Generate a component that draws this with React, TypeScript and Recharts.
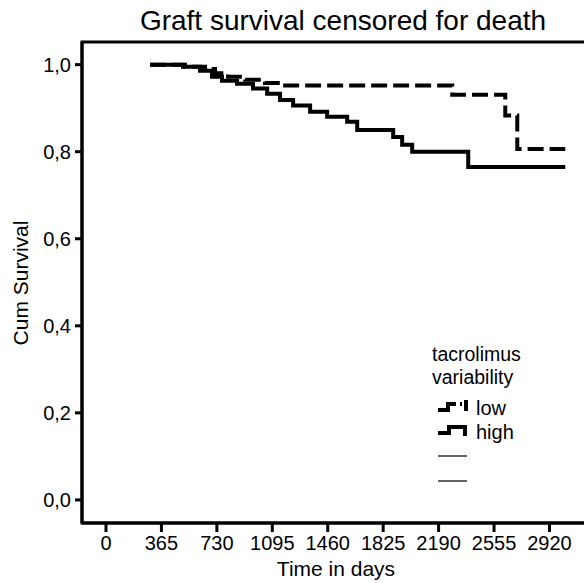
import React from "react"
import { LineChart, Line, XAxis, YAxis, ReferenceArea } from "recharts"

// Kaplan-Meier steps (days, cumulative survival)
const lowDays = [290, 520, 652, 718, 804, 916, 1047, 1160, 2280, 2629, 2708, 3024]
const lowSurv = [1.0, 0.995, 0.99, 0.98, 0.972, 0.965, 0.958, 0.952, 0.931, 0.883, 0.806, 0.806]
const highDays = [290, 507, 619, 698, 764, 863, 968, 1061, 1146, 1232, 1344, 1456, 1588, 1654, 1891, 1950, 2016, 2385, 3024]
const highSurv = [1.0, 0.995, 0.986, 0.972, 0.963, 0.956, 0.945, 0.933, 0.919, 0.906, 0.892, 0.88, 0.869, 0.85, 0.834, 0.816, 0.8, 0.765, 0.765]

const xTicks = [0, 365, 730, 1095, 1460, 1825, 2190, 2555, 2920]
const yTicks = [0, 0.2, 0.4, 0.6, 0.8, 1.0]

const X_MIN = -158
const X_MAX = 3200
const Y_MIN = -0.053
const Y_MAX = 1.052

const FONT = "'Liberation Sans', Arial, Helvetica, sans-serif"

const lowData = lowDays.map((t, i) => ({ t, s: lowSurv[i] }))
const highData = highDays.map((t, i) => ({ t, s: highSurv[i] }))

const fmt = (v: number) => v.toFixed(1).replace(".", ",")

export default function App() {
  return (
    <div
      style={{
        position: "absolute",
        left: 0,
        top: 0,
        width: 584,
        height: 583,
        overflow: "hidden",
        background: "#fff",
        fontFamily: FONT,
        color: "#000",
      }}
    >
      <LineChart width={600} height={583} margin={{ top: 42, right: 8, bottom: 0, left: 0 }}>
        <XAxis
          dataKey="t"
          type="number"
          domain={[X_MIN, X_MAX]}
          ticks={xTicks}
          allowDataOverflow
          height={60}
          stroke="#000"
          strokeWidth={3}
          tickSize={9}
          tickMargin={4}
          tick={{ fill: "#000", fontSize: 20, fontFamily: FONT }}
          interval={0}
        />
        <YAxis
          dataKey="s"
          type="number"
          domain={[Y_MIN, Y_MAX]}
          ticks={yTicks}
          allowDataOverflow
          width={82}
          stroke="#000"
          strokeWidth={3}
          tickSize={7}
          tickMargin={4}
          tickFormatter={fmt}
          tick={{ fill: "#000", fontSize: 20, fontFamily: FONT }}
          interval={0}
        />
        <ReferenceArea
          x1={X_MIN}
          x2={X_MAX}
          y1={Y_MIN}
          y2={Y_MAX}
          fill="none"
          stroke="#000"
          strokeWidth={3}
          ifOverflow="extendDomain"
        />
        <Line
          data={highData}
          dataKey="s"
          type="stepAfter"
          stroke="#000"
          strokeWidth={4}
          dot={false}
          isAnimationActive={false}
        />
        <Line
          data={lowData}
          dataKey="s"
          type="stepAfter"
          stroke="#000"
          strokeWidth={4}
          strokeDasharray="16 6"
          dot={false}
          isAnimationActive={false}
        />
      </LineChart>

      <div style={{ position: "absolute", left: 0, width: 686, top: 6, lineHeight: "30px", textAlign: "center", fontSize: 28 }}>
        Graft survival censored for death
      </div>
      <div style={{ position: "absolute", left: 0, width: 672, top: 556, lineHeight: "26px", textAlign: "center", fontSize: 21 }}>
        Time in days
      </div>
      <div
        style={{
          position: "absolute",
          left: 21,
          top: 283,
          fontSize: 21,
          lineHeight: "24px",
          whiteSpace: "nowrap",
          transform: "translate(-50%, -50%) rotate(-90deg)",
        }}
      >
        Cum Survival
      </div>

      <div style={{ position: "absolute", left: 432, top: 343, fontSize: 19.5, lineHeight: "23px" }}>
        <div>tacrolimus</div>
        <div>variability</div>
      </div>
      <svg style={{ position: "absolute", left: 436, top: 396 }} width={40} height={95}>
        <path d="M2 14 H12 V8 H20 M24 8 H26 M30 4 V15" stroke="#000" strokeWidth={4} fill="none" />
        <path d="M2 37 H13 V31 H29 V40" stroke="#000" strokeWidth={4} fill="none" />
        <line x1={2} y1={60} x2={31} y2={60} stroke="#666" strokeWidth={2} />
        <line x1={2} y1={85} x2={31} y2={85} stroke="#666" strokeWidth={2} />
      </svg>
      <div style={{ position: "absolute", left: 476, top: 396, fontSize: 20, lineHeight: "24px" }}>low</div>
      <div style={{ position: "absolute", left: 476, top: 420, fontSize: 20, lineHeight: "24px" }}>high</div>
    </div>
  )
}
